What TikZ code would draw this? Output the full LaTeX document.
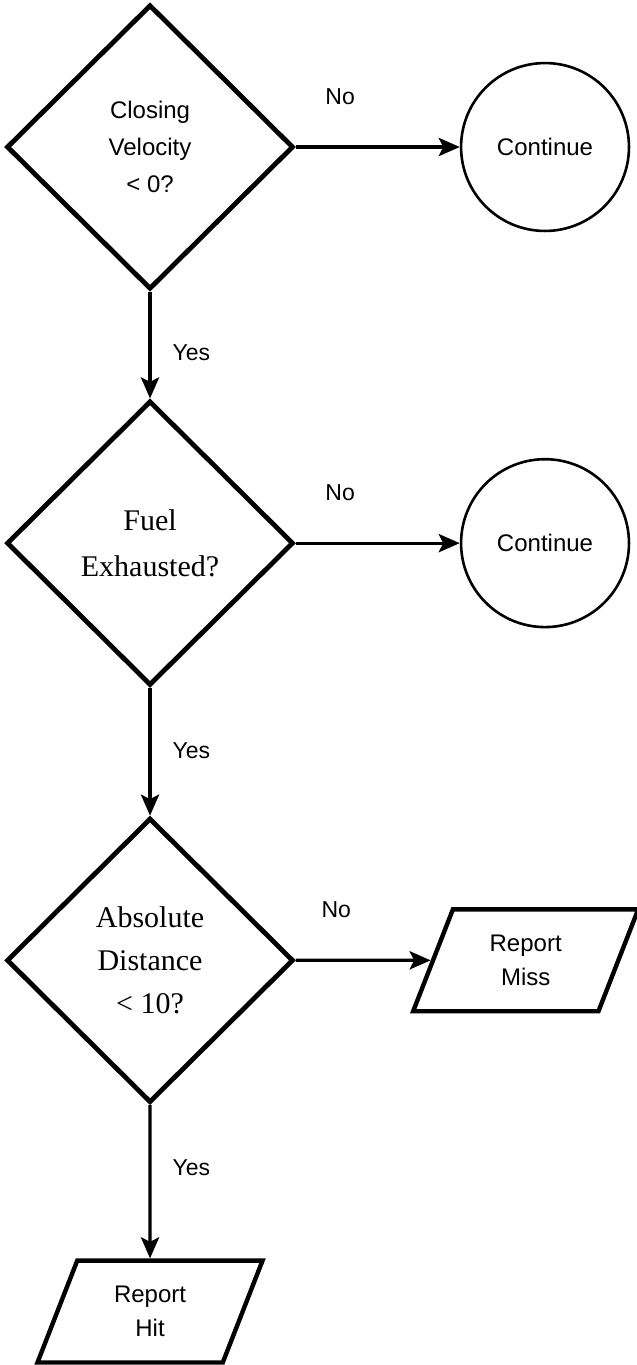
\documentclass[tikz,border=0pt]{standalone}
\usepackage{fontspec}
\setmainfont{Liberation Serif}
\setsansfont{Liberation Sans}
\usetikzlibrary{shapes.geometric,arrows.meta}
\begin{document}
\begin{tikzpicture}[
  node distance=6.9cm,
  decision/.style={diamond, draw=black, line width=2.4pt, minimum width=5.04cm, minimum height=5.0cm, inner sep=0pt, align=center},
  endnode/.style={circle, draw=black, line width=1.3pt, minimum size=2.95cm, font=\sffamily\fontsize{12}{14}\selectfont},
  ionode/.style={trapezium, trapezium left angle=70, trapezium right angle=110, trapezium stretches=true, draw=black, line width=2.2pt, minimum width=3.97cm, minimum height=1.79cm, align=center, font=\sffamily\fontsize{12}{17}\selectfont},
  lbl/.style={font=\sffamily\fontsize{11.5}{13}\selectfont},
  arrow/.style={-{Stealth[length=0.37cm, width=0.32cm, inset=0.08cm]}, line width=1.6pt}
]
\useasboundingbox (-2.636,2.583) rectangle (8.54,-21.40);

% Closing velocity check
\node[decision, font=\sffamily\fontsize{12}{18.5}\selectfont] (close_dec) {Closing\\Velocity\\< 0?};
\node[endnode, right of=close_dec, node distance=6.94cm] (cont_a) {Continue};

\draw[arrow] (close_dec) -- (cont_a) node[lbl, pos=0.27, above=0.6cm] {No};

% Fuel check
\node[decision, below of=close_dec, node distance=6.96cm, font=\rmfamily\fontsize{15}{23}\selectfont] (fuel_dec) {Fuel\\Exhausted?};
\node[endnode, right of=fuel_dec, node distance=6.94cm] (cont_b) {Continue};

\draw[arrow] (close_dec) -- (fuel_dec) node[lbl, pos=0.57, right=0.25cm] {Yes};
\draw[arrow] (fuel_dec) -- (cont_b) node[lbl, pos=0.27, above=0.6cm] {No};

% Distance check
\node[decision, below of=fuel_dec, node distance=7.33cm, font=\rmfamily\fontsize{15}{21.5}\selectfont] (dist_dec) {Absolute\\Distance\\< 10?};
\node[ionode, right of=dist_dec, node distance=6.6cm] (miss_out) {Report\\Miss};
\node[ionode, below of=dist_dec, node distance=6.17cm] (hit_out) {Report\\Hit};

\draw[arrow] (fuel_dec) -- (dist_dec) node[lbl, pos=0.49, right=0.25cm] {Yes};
\draw[arrow] (dist_dec) -- (miss_out) node[lbl, pos=0.3, above=0.6cm] {No};
\draw[arrow] (dist_dec) -- (hit_out) node[lbl, pos=0.41, right=0.25cm] {Yes};

\end{tikzpicture}
\end{document}
